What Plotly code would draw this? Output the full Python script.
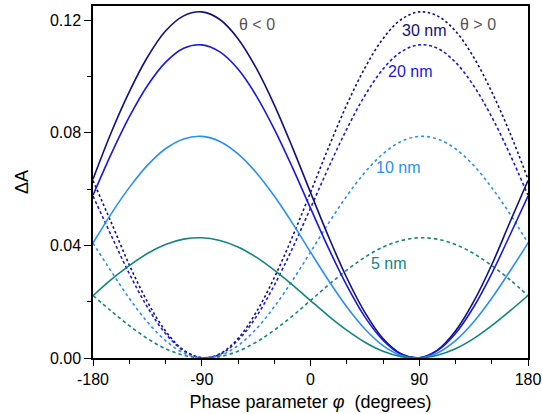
import plotly.graph_objects as go

# Phase parameter (degrees)
phi = [-180, -165, -150, -135, -120, -105, -90, -75, -60, -45, -30, -15, 0,
       15, 30, 45, 60, 75, 90, 105, 120, 135, 150, 165, 180]

# theta < 0 (solid)
neg_30nm = [0.0635, 0.0800, 0.0945, 0.1068, 0.1161, 0.1215, 0.1229, 0.1202, 0.1134, 0.1030,
            0.0899, 0.0748, 0.0588, 0.0430, 0.0285, 0.0162, 0.0069, 0.0015, 0.0001, 0.0028,
            0.0096, 0.0200, 0.0331, 0.0482, 0.0630]
neg_20nm = [0.0578, 0.0724, 0.0856, 0.0967, 0.1050, 0.1100, 0.1112, 0.1087, 0.1026, 0.0932,
            0.0813, 0.0677, 0.0532, 0.0389, 0.0258, 0.0146, 0.0063, 0.0013, 0.0001, 0.0026,
            0.0087, 0.0181, 0.0300, 0.0436, 0.0575]
neg_10nm = [0.0408, 0.0512, 0.0605, 0.0684, 0.0743, 0.0778, 0.0787, 0.0769, 0.0725, 0.0659,
            0.0575, 0.0479, 0.0376, 0.0275, 0.0182, 0.0103, 0.0044, 0.0009, 0.0000, 0.0018,
            0.0062, 0.0128, 0.0212, 0.0308, 0.0408]
neg_5nm = [0.0221, 0.0278, 0.0328, 0.0371, 0.0403, 0.0422, 0.0427, 0.0417, 0.0394, 0.0358,
           0.0312, 0.0260, 0.0204, 0.0149, 0.0099, 0.0056, 0.0024, 0.0005, 0.0000, 0.0010,
           0.0033, 0.0069, 0.0115, 0.0167, 0.0222]

# theta > 0 (dashed)
pos_30nm = [0.0630, 0.0482, 0.0331, 0.0200, 0.0096, 0.0028, 0.0001, 0.0015, 0.0069, 0.0162,
            0.0285, 0.0430, 0.0588, 0.0748, 0.0899, 0.1030, 0.1134, 0.1202, 0.1229, 0.1215,
            0.1161, 0.1068, 0.0945, 0.0800, 0.0635]
pos_20nm = [0.0575, 0.0436, 0.0300, 0.0181, 0.0087, 0.0026, 0.0001, 0.0013, 0.0063, 0.0146,
            0.0258, 0.0389, 0.0532, 0.0677, 0.0813, 0.0932, 0.1026, 0.1087, 0.1112, 0.1100,
            0.1050, 0.0967, 0.0856, 0.0724, 0.0578]
pos_10nm = [0.0408, 0.0308, 0.0212, 0.0128, 0.0062, 0.0018, 0.0000, 0.0009, 0.0044, 0.0103,
            0.0182, 0.0275, 0.0376, 0.0479, 0.0575, 0.0659, 0.0725, 0.0769, 0.0787, 0.0778,
            0.0743, 0.0684, 0.0605, 0.0512, 0.0408]
pos_5nm = [0.0222, 0.0167, 0.0115, 0.0069, 0.0033, 0.0010, 0.0000, 0.0005, 0.0024, 0.0056,
           0.0099, 0.0149, 0.0204, 0.0260, 0.0312, 0.0358, 0.0394, 0.0417, 0.0427, 0.0422,
           0.0403, 0.0371, 0.0328, 0.0278, 0.0221]

labels = ["30 nm", "20 nm", "10 nm", "5 nm"]
colors = ["#10107f", "#1818e0", "#2890f5", "#12857f"]
dashes = ["2.5px,2.5px", "3px,2.5px", "3px,3px", "3.5px,3px"]
neg_series = [neg_30nm, neg_20nm, neg_10nm, neg_5nm]
pos_series = [pos_30nm, pos_20nm, pos_10nm, pos_5nm]

FONT = "Liberation Sans, Arial, sans-serif"

fig = go.Figure()
for lab, col, dsh, ys in zip(labels, colors, dashes, pos_series):
    fig.add_trace(go.Scatter(x=phi, y=ys, mode="lines", name=lab + " θ>0",
                             line=dict(color=col, width=1.6, dash=dsh, shape="spline"),
                             showlegend=False, cliponaxis=True))
for lab, col, ys in zip(labels, colors, neg_series):
    fig.add_trace(go.Scatter(x=phi, y=ys, mode="lines", name=lab + " θ<0",
                             line=dict(color=col, width=1.6, shape="spline"),
                             showlegend=False, cliponaxis=True))

fig.add_annotation(x=-44, y=0.1184, text="θ < 0", showarrow=False,
                   font=dict(family=FONT, size=16, color="#555555"))
fig.add_annotation(x=139, y=0.1184, text="θ > 0", showarrow=False,
                   font=dict(family=FONT, size=16, color="#555555"))
fig.add_annotation(x=94, y=0.1162, text="30 nm", showarrow=False,
                   font=dict(family=FONT, size=16, color=colors[0]))
fig.add_annotation(x=82.5, y=0.1016, text="20 nm", showarrow=False,
                   font=dict(family=FONT, size=16, color=colors[1]))
fig.add_annotation(x=72.5, y=0.0676, text="10 nm", showarrow=False,
                   font=dict(family=FONT, size=16, color=colors[2]))
fig.add_annotation(x=65, y=0.0335, text="5 nm", showarrow=False,
                   font=dict(family=FONT, size=16, color=colors[3]))

fig.update_layout(
    width=542, height=414,
    margin=dict(l=93, r=14, t=6, b=56, autoexpand=False),
    paper_bgcolor="white", plot_bgcolor="white",
    font=dict(family=FONT, size=16, color="black"),
)
fig.update_xaxes(
    range=[-180, 180], tickvals=[-180, -90, 0, 90, 180],
    ticktext=["-180", "-90", "0", "90", "180"],
    ticks="outside", ticklen=6, tickwidth=1.2, tickcolor="black",
    minor=dict(tickvals=[-150, -120, -60, -30, 30, 60, 120, 150], ticks="outside",
               ticklen=4, tickwidth=1.2, tickcolor="black"),
    showline=True, linecolor="black", linewidth=1.5, mirror=True,
    showgrid=False, zeroline=False, automargin=False,
    tickfont=dict(family=FONT, size=16),
    title=dict(text="Phase parameter <i>φ</i>  (degrees)", font=dict(family=FONT, size=18), standoff=8),
)
fig.update_yaxes(
    range=[0, 0.125], tickvals=[0, 0.04, 0.08, 0.12],
    ticktext=["0.00", "0.04", "0.08", "0.12"],
    ticks="outside", ticklen=7, tickwidth=1.2, tickcolor="black",
    minor=dict(tickvals=[0.02, 0.06, 0.10], ticks="outside",
               ticklen=4, tickwidth=1.2, tickcolor="black"),
    showline=True, linecolor="black", linewidth=1.5, mirror=True,
    showgrid=False, zeroline=False, automargin=False,
    tickfont=dict(family=FONT, size=16),
    title=dict(text="ΔA", font=dict(family=FONT, size=18), standoff=17),
)

fig.write_html("out.html", config={"displayModeBar": False},
               post_script="document.body.style.margin='0px';document.body.style.overflow='hidden';")
